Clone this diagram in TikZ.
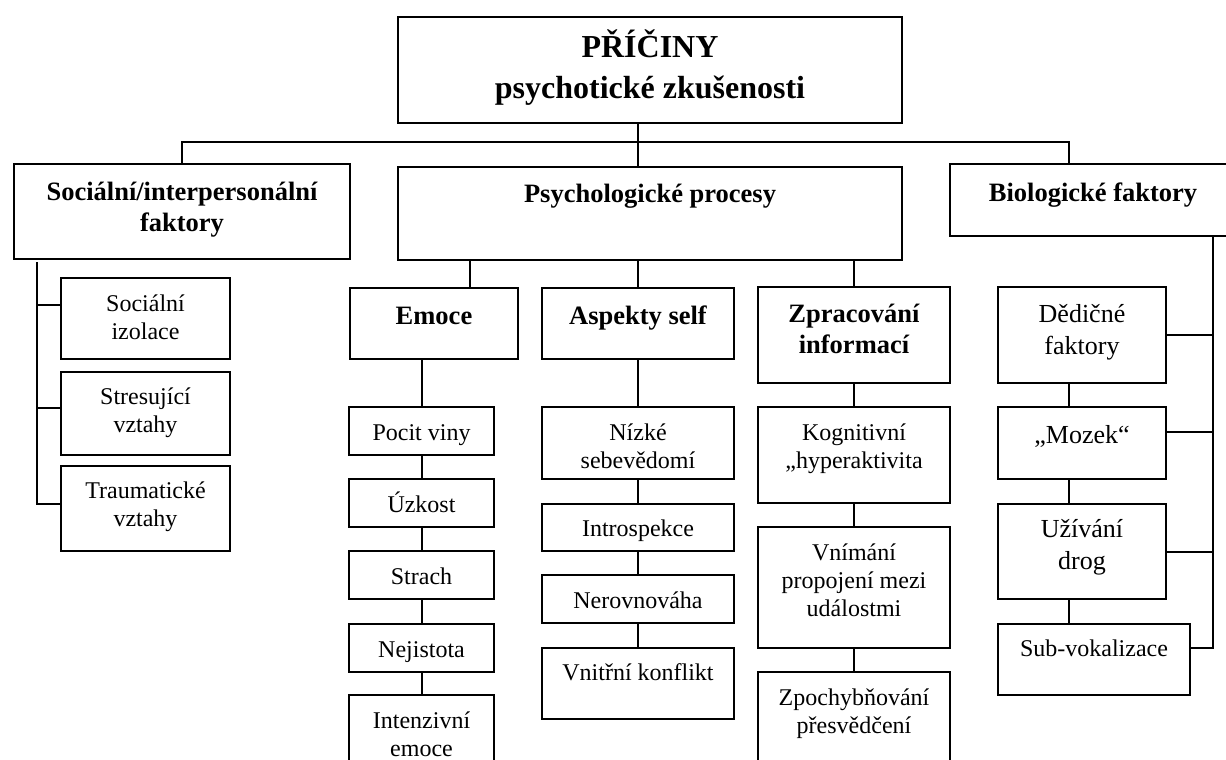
\documentclass[tikz,border=0pt]{standalone}
\usepackage{fontspec}
\setmainfont{Liberation Serif}
\begin{document}
\begin{tikzpicture}[x=0.5pt, y=-0.5pt, line width=1pt,
		box/.style={draw, inner sep=0pt, align=flush center},
		hd/.style={box, font=\fontsize{13.25}{15.5}\selectfont\bfseries},
		tx/.style={box, font=\fontsize{12}{14}\selectfont},
		tb/.style={box, font=\fontsize{13}{16}\selectfont},
		ttl/.style={box, font=\fontsize{16}{20.5}\selectfont\bfseries}]
	\useasboundingbox (0,0) rectangle (1226,760);
	\clip (0,0) rectangle (1226,760);
	% style, name, left, top, right, bottom, first baseline, text
	\def\bx#1#2#3#4#5#6#7#8{\node[#1, anchor=north west, text width={(#5-#3)*0.5pt},
		text height={(#7-#4)*0.5pt}, text depth={(#6-#7)*0.5pt}] (#2) at (#3,#4) {#8};}
	\bx{ttl}{title}{397}{16}{901}{122}{56}{PŘÍČINY\\psychotické zkušenosti}
	\bx{hd}{soc}{13}{163}{349}{258}{199}{Sociální/interpersonální\\faktory}
	\bx{hd}{psych}{397}{166}{901}{259}{201}{Psychologické procesy}
	\bx{hd}{bio}{949}{163}{1235}{235}{200}{Biologické faktory}
	\bx{hd}{emoce}{349}{287}{517}{358}{323}{Emoce}
	\bx{hd}{aspekty}{541}{287}{733}{358}{323}{Aspekty self}
	\bx{hd}{zprac}{757}{286}{949}{382}{321}{Zpracování\\informací}
	% columns
	\foreach \n/\t/\b/\y/\s in {s1/277/358/310/Sociální\\izolace, s2/371/454/403/Stresující\\vztahy,
		s3/465/550/497/Traumatické\\vztahy}{
		\bx{tx}{\n}{60}{\t}{229}{\b}{\y}{\s}}
	\foreach \n/\t/\b/\y/\s in {e1/406/454/439/Pocit viny, e2/478/526/511/Úzkost, e3/550/598/583/Strach,
		e4/623/671/656/Nejistota, e5/694/790/727/Intenzivní\\emoce}{
		\bx{tx}{\n}{348}{\t}{493}{\b}{\y}{\s}}
	\foreach \n/\t/\b/\y/\s in {a1/406/478/439/Nízké\\sebevědomí, a2/503/550/535/Introspekce,
		a3/574/622/607/Nerovnováha, a4/647/718/679/Vnitřní konflikt}{
		\bx{tx}{\n}{541}{\t}{733}{\b}{\y}{\s}}
	\foreach \n/\t/\b/\y/\s in {z1/406/502/439/Kognitivní\\„hyperaktivita, z2/526/647/559/Vnímání\\propojení mezi\\událostmi,
		z3/671/790/704/Zpochybňování\\přesvědčení}{
		\bx{tx}{\n}{757}{\t}{949}{\b}{\y}{\s}}
	\bx{tb}{b1}{997}{286}{1165}{382}{321}{Dědičné\\faktory}
	\bx{tb}{b2}{997}{406}{1165}{478}{442}{„Mozek“}
	\bx{tb}{b3}{997}{503}{1165}{598}{536}{Užívání\\drog}
	\bx{tx}{b4}{997}{623}{1189}{694}{655}{Sub-vokalizace}
	% top level
	\coordinate (bb) at (1069,142);
	\draw (title.south -| aspekty) -- (psych.north -| aspekty);
	\draw (soc.north) |- (bb) -- (bb |- bio.north);
	\draw ([xshift=18pt]emoce.north) -- ([xshift=18pt]emoce.north |- psych.south);
	\draw (aspekty.north) -- (aspekty.north |- psych.south);
	\draw (zprac.north) -- (zprac.north |- psych.south);
	% chains
	\draw (emoce.south -| e1) -- (e1.north);
	\draw (aspekty.south) -- (a1.north);
	\draw (zprac.south) -- (z1.north);
	\foreach \a/\b in {e1/e2,e2/e3,e3/e4,e4/e5,a1/a2,a2/a3,a3/a4,z1/z2,z2/z3}{
		\draw (\a.south) -- (\b.north);}
	\foreach \a/\b in {b1/b2,b2/b3,b3/b4}{
		\draw (\a.south -| bb) -- (\b.north -| bb);}
	% side bars
	\coordinate (sb) at (37,262); \coordinate (rb) at (1213,236);
	\draw (sb) |- ([yshift=2.25pt]s3.west);
	\foreach \n/\s in {s1/7,s2/3}{
		\draw ([yshift=\s pt]\n.west) -- ([yshift=\s pt]\n.west -| sb);}
	\draw (bio.south -| rb) |- ([yshift=5.75pt]b4.east);
	\foreach \n/\s in {b1/0,b2/5.5,b3/0}{
		\draw ([yshift=\s pt]\n.east) -- ([yshift=\s pt]\n.east -| rb);}
\end{tikzpicture}
\end{document}
